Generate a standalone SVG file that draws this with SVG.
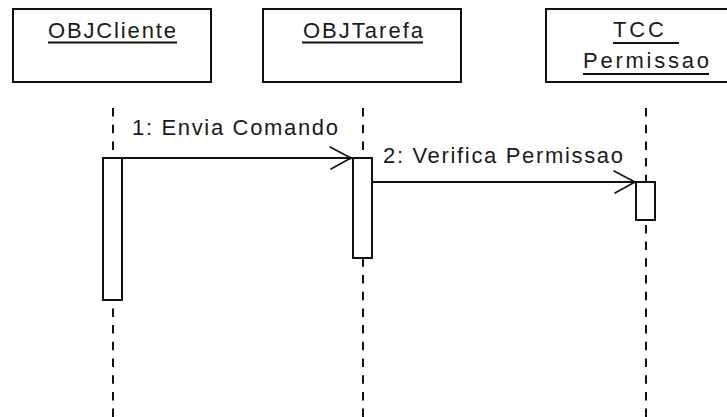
<svg xmlns="http://www.w3.org/2000/svg" width="727" height="417" viewBox="0 0 727 417">
  <style>
    .box { fill: #ffffff; stroke: #111111; stroke-width: 2; }
    .bar { fill: #ffffff; stroke: #111111; stroke-width: 2; }
    .life { stroke: #111111; stroke-width: 2; stroke-dasharray: 8.5 8.2; fill: none; }
    .msg { stroke: #111111; stroke-width: 2; fill: none; }
    .head { stroke: #111111; stroke-width: 1.6; fill: none; stroke-linecap: round; }
    .ul { stroke: #111111; stroke-width: 2; }
    text { font-family: "Liberation Sans", Arial, sans-serif; font-size: 22px; fill: #1a1a1a; }
  </style>
  <rect width="727" height="417" fill="#ffffff"/>

  <!-- lifelines -->
  <g id="lifelines">
    <line class="life" x1="113" y1="108" x2="113" y2="417"/>
    <line class="life" x1="363" y1="108" x2="363" y2="417"/>
    <line class="life" x1="646" y1="108" x2="646" y2="417"/>
  </g>

  <!-- object boxes -->
  <g id="objCliente">
    <rect class="box" x="13" y="9" width="198" height="73"/>
    <text x="48" y="38" textLength="128" lengthAdjust="spacing">OBJCliente</text>
    <line class="ul" x1="48" y1="42.5" x2="177" y2="42.5"/>
    <rect class="bar" x="103" y="158" width="19" height="142"/>
  </g>

  <g id="objTarefa">
    <rect class="box" x="263" y="9" width="198" height="73"/>
    <text x="303" y="38" textLength="120" lengthAdjust="spacing">OBJTarefa</text>
    <line class="ul" x1="302" y1="42.5" x2="423" y2="42.5"/>
    <rect class="bar" x="353" y="158" width="19" height="100"/>
  </g>

  <g id="tccPermissao">
    <rect class="box" x="546" y="9" width="198" height="73"/>
    <text x="613" y="37" textLength="51" lengthAdjust="spacing">TCC</text>
    <line class="ul" x1="613" y1="43" x2="679" y2="43"/>
    <text x="583" y="68" textLength="126" lengthAdjust="spacing">Permissao</text>
    <line class="ul" x1="583" y1="74" x2="709" y2="74"/>
    <rect class="bar" x="636" y="182" width="19" height="38"/>
  </g>

  <!-- messages -->
  <g id="connectors">
    <line class="msg" x1="122" y1="158" x2="352" y2="158"/>
    <polyline class="head" points="330,147 351,158 331,169"/>
    <circle cx="350" cy="158" r="1.6" fill="#111111"/>
    <text x="132" y="135" textLength="206" lengthAdjust="spacing">1: Envia Comando</text>

    <line class="msg" x1="372" y1="182" x2="636" y2="182"/>
    <polyline class="head" points="614,171 635,182 615,193"/>
    <circle cx="633" cy="182" r="1.6" fill="#111111"/>
    <text x="383" y="163" textLength="240" lengthAdjust="spacing">2: Verifica Permissao</text>
  </g>
</svg>
